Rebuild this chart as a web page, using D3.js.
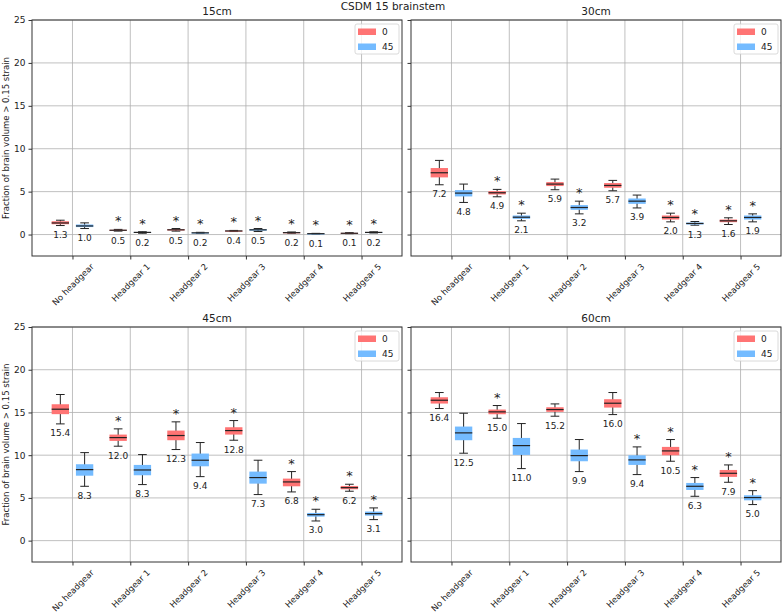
<!DOCTYPE html>
<html>
<head>
<meta charset="utf-8">
<script src="https://cdn.jsdelivr.net/npm/d3@7"></script>
<style>
  body { margin: 0; background: #fff; }
  svg text { font-family: "DejaVu Sans", sans-serif; fill: #222; }
</style>
</head>
<body>
<div id="chart"></div>
<script>
// categories and series
var categories = ['No headgear', 'Headgear 1', 'Headgear 2', 'Headgear 3', 'Headgear 4', 'Headgear 5'];
var seriesNames = ['0', '45'];
var panelTitles = ['15cm', '30cm', '45cm', '60cm'];
var yTicks = [0, 5, 10, 15, 20, 25];

// box stats per category: [whisker low, q1, median, q3, whisker high]
var stats15_0 = [[1.05, 1.2, 1.35, 1.55, 1.67], [0.4, 0.45, 0.5, 0.55, 0.6], [0.4, 0.47, 0.55, 0.63, 0.7],
                 [0.35, 0.38, 0.42, 0.45, 0.48], [0.15, 0.18, 0.22, 0.26, 0.3], [0.1, 0.12, 0.15, 0.19, 0.22]];
var stats15_45 = [[0.7, 0.87, 1.0, 1.17, 1.36], [0.15, 0.2, 0.25, 0.3, 0.33], [0.14, 0.17, 0.2, 0.23, 0.26],
                  [0.35, 0.45, 0.55, 0.63, 0.7], [0.06, 0.08, 0.1, 0.12, 0.14], [0.18, 0.21, 0.25, 0.29, 0.32]];
var stats30_0 = [[5.8, 6.66, 7.2, 7.75, 8.64], [4.4, 4.67, 4.87, 5.06, 5.26], [5.22, 5.65, 5.88, 6.11, 6.46],
                 [5.1, 5.45, 5.72, 6.0, 6.31], [1.48, 1.75, 1.99, 2.22, 2.49], [1.17, 1.44, 1.6, 1.75, 1.95]];
var stats30_45 = [[3.74, 4.44, 4.83, 5.18, 5.88], [1.6, 1.83, 2.02, 2.22, 2.49], [2.41, 2.88, 3.15, 3.43, 3.89],
                  [3.1, 3.58, 3.89, 4.2, 4.6], [1.09, 1.17, 1.29, 1.4, 1.52], [1.48, 1.75, 1.99, 2.22, 2.41]];
var stats45_0 = [[13.66, 14.8, 15.38, 15.96, 17.1], [11.05, 11.67, 12.06, 12.41, 13.08], [10.66, 11.75, 12.3, 12.88, 13.9],
                 [11.75, 12.41, 12.88, 13.27, 14.05], [5.7, 6.36, 6.87, 7.26, 8.08], [5.78, 6.01, 6.2, 6.4, 6.6]];
var stats45_45 = [[6.36, 7.6, 8.31, 8.94, 10.3], [6.56, 7.65, 8.27, 8.86, 10.07], [7.49, 8.7, 9.41, 10.19, 11.48],
                  [5.39, 6.67, 7.38, 8.08, 9.41], [2.3, 2.81, 3.04, 3.24, 3.67], [2.46, 2.93, 3.16, 3.4, 3.83]];
var stats60_0 = [[15.46, 16.04, 16.43, 16.78, 17.33], [14.32, 14.79, 15.07, 15.34, 15.81], [14.56, 15.07, 15.34, 15.61, 16.0],
                 [14.75, 15.57, 16.08, 16.55, 17.33], [9.29, 9.99, 10.5, 10.97, 11.83], [6.83, 7.46, 7.88, 8.27, 8.86]];
var stats60_45 = [[10.23, 11.75, 12.61, 13.35, 14.91], [8.43, 10.03, 11.12, 12.02, 13.7], [8.08, 9.29, 9.95, 10.66, 11.83],
                  [7.73, 8.86, 9.45, 9.99, 10.97], [5.19, 5.93, 6.36, 6.75, 7.38], [4.22, 4.72, 5.04, 5.31, 5.85]];

// printed value under each box
var labels15_0 = ['1.3', '0.5', '0.5', '0.4', '0.2', '0.1'];
var labels15_45 = ['1.0', '0.2', '0.2', '0.5', '0.1', '0.2'];
var labels30_0 = ['7.2', '4.9', '5.9', '5.7', '2.0', '1.6'];
var labels30_45 = ['4.8', '2.1', '3.2', '3.9', '1.3', '1.9'];
var labels45_0 = ['15.4', '12.0', '12.3', '12.8', '6.8', '6.2'];
var labels45_45 = ['8.3', '8.3', '9.4', '7.3', '3.0', '3.1'];
var labels60_0 = ['16.4', '15.0', '15.2', '16.0', '10.5', '7.9'];
var labels60_45 = ['12.5', '11.0', '9.9', '9.4', '6.3', '5.0'];

// significance asterisks
var stars15_0 = [0, 1, 1, 1, 1, 1];
var stars15_45 = [0, 1, 1, 1, 1, 1];
var stars30_0 = [0, 1, 0, 0, 1, 1];
var stars30_45 = [0, 1, 1, 0, 1, 1];
var stars45_0 = [0, 1, 1, 1, 1, 1];
var stars45_45 = [0, 0, 0, 0, 1, 1];
var stars60_0 = [0, 1, 0, 0, 1, 1];
var stars60_45 = [0, 0, 0, 1, 1, 1];

var panels = [
  { title: panelTitles[0], stats: [stats15_0, stats15_45], labels: [labels15_0, labels15_45], stars: [stars15_0, stars15_45], x0: 32, x1: 402, y0: 20, y1: 256, yLabels: true },
  { title: panelTitles[1], stats: [stats30_0, stats30_45], labels: [labels30_0, labels30_45], stars: [stars30_0, stars30_45], x0: 411, x1: 781, y0: 20, y1: 256, yLabels: false },
  { title: panelTitles[2], stats: [stats45_0, stats45_45], labels: [labels45_0, labels45_45], stars: [stars45_0, stars45_45], x0: 32, x1: 402, y0: 327, y1: 562, yLabels: true },
  { title: panelTitles[3], stats: [stats60_0, stats60_45], labels: [labels60_0, labels60_45], stars: [stars60_0, stars60_45], x0: 411, x1: 781, y0: 327, y1: 562, yLabels: false }
];

var colors = ['#ff7474', '#74bbff'],
    offsets = [-0.21, 0.21],
    boxWidth = 0.3,
    capWidth = 0.15;

var svg = d3.select('#chart')
  .append('svg')
  .attr('width', 783)
  .attr('height', 616);

svg.append('text')
  .attr('x', 393)
  .attr('y', 10)
  .attr('text-anchor', 'middle')
  .style('font-size', '10.5px')
  .text('CSDM 15 brainstem');

panels.forEach(function(p) {
  var x = d3.scaleLinear().domain([0.3, 6.7]).range([p.x0, p.x1]);
  var y = d3.scaleLinear().domain([-2.5, 25]).range([p.y1, p.y0]);
  var g = svg.append('g');

  // grid
  g.selectAll('.hgrid').data(yTicks).enter().append('line')
    .attr('x1', p.x0).attr('x2', p.x1)
    .attr('y1', function(d) { return y(d); }).attr('y2', function(d) { return y(d); })
    .attr('stroke', '#b0b0b0').attr('stroke-width', 0.8);
  g.selectAll('.vgrid').data(d3.range(1, 7)).enter().append('line')
    .attr('y1', p.y0).attr('y2', p.y1)
    .attr('x1', function(d) { return x(d); }).attr('x2', function(d) { return x(d); })
    .attr('stroke', '#b0b0b0').attr('stroke-width', 0.8);

  // axes
  var yAxis = d3.axisLeft(y).tickValues(yTicks).tickSize(3.5).tickPadding(3)
    .tickFormat(p.yLabels ? d3.format('d') : '');
  var ya = g.append('g').attr('transform', 'translate(' + p.x0 + ',0)').call(yAxis);
  ya.select('.domain').remove();
  ya.selectAll('line').attr('stroke', '#333');
  ya.selectAll('text').style('font-size', '9px').style('font-family', '"DejaVu Sans", sans-serif').attr('fill', '#222');

  var xAxis = d3.axisBottom(x).tickValues(d3.range(1, 7)).tickSize(3.5)
    .tickFormat(function(d) { return categories[d - 1]; });
  var xa = g.append('g').attr('transform', 'translate(0,' + p.y1 + ')').call(xAxis);
  xa.select('.domain').remove();
  xa.selectAll('line').attr('stroke', '#333');
  xa.selectAll('text')
    .style('font-size', '8.5px').style('font-family', '"DejaVu Sans", sans-serif').attr('fill', '#222')
    .attr('dy', null).attr('y', 0)
    .attr('text-anchor', 'middle')
    .attr('dominant-baseline', 'central')
    .each(function() {
      var L = this.getComputedTextLength(), h = 8.5;
      var H = (L + h) * Math.SQRT1_2;
      d3.select(this).attr('transform', 'translate(0,' + (6 + H / 2) + ') rotate(-45)');
    });

  // series
  p.stats.forEach(function(s, si) {
    var sg = g.append('g');
    var items = s.map(function(d, i) {
      return { pos: i + 1 + offsets[si], st: d, label: p.labels[si][i], star: p.stars[si][i] };
    });
    var b = sg.selectAll('.box').data(items).enter().append('g');
    // whiskers
    b.append('line')
      .attr('x1', function(d) { return x(d.pos); }).attr('x2', function(d) { return x(d.pos); })
      .attr('y1', function(d) { return y(d.st[0]); }).attr('y2', function(d) { return y(d.st[4]); })
      .attr('stroke', '#222').attr('stroke-width', 1);
    [0, 4].forEach(function(k) {
      b.append('line')
        .attr('x1', function(d) { return x(d.pos - capWidth / 2); }).attr('x2', function(d) { return x(d.pos + capWidth / 2); })
        .attr('y1', function(d) { return y(d.st[k]); }).attr('y2', function(d) { return y(d.st[k]); })
        .attr('stroke', '#222').attr('stroke-width', 1);
    });
    b.append('rect')
      .attr('x', function(d) { return x(d.pos - boxWidth / 2); })
      .attr('width', x(boxWidth) - x(0))
      .attr('y', function(d) { return y(d.st[3]); })
      .attr('height', function(d) { return Math.max(1, y(d.st[1]) - y(d.st[3])); })
      .attr('fill', colors[si]);
    b.append('line')
      .attr('x1', function(d) { return x(d.pos - boxWidth / 2); }).attr('x2', function(d) { return x(d.pos + boxWidth / 2); })
      .attr('y1', function(d) { return y(d.st[2]); }).attr('y2', function(d) { return y(d.st[2]); })
      .attr('stroke', '#222').attr('stroke-width', 1.2);
    b.append('text')
      .attr('x', function(d) { return x(d.pos); })
      .attr('y', function(d) { return y(d.st[0]) + 9.5; })
      .attr('text-anchor', 'middle').attr('dominant-baseline', 'central')
      .style('font-size', '9px')
      .text(function(d) { return d.label; });
    b.filter(function(d) { return d.star; }).append('text')
      .attr('x', function(d) { return x(d.pos); })
      .attr('y', function(d) { return y(d.st[4]) - 4; })
      .attr('text-anchor', 'middle')
      .style('font-size', '13px')
      .text('*');
  });

  // frame
  g.append('rect')
    .attr('x', p.x0).attr('y', p.y0)
    .attr('width', p.x1 - p.x0).attr('height', p.y1 - p.y0)
    .attr('fill', 'none').attr('stroke', '#333').attr('stroke-width', 1);

  g.append('text')
    .attr('x', (p.x0 + p.x1) / 2).attr('y', p.y0 - 5.5)
    .attr('text-anchor', 'middle')
    .style('font-size', '10.5px')
    .text(p.title);

  // legend
  var lg = g.append('g').attr('transform', 'translate(' + (p.x1 - 47) + ',' + (p.y0 + 4) + ')');
  lg.append('rect')
    .attr('width', 44).attr('height', 30).attr('rx', 2)
    .attr('fill', '#fff').attr('fill-opacity', 0.8)
    .attr('stroke', '#d0d0d0').attr('stroke-width', 0.8);
  seriesNames.forEach(function(n, i) {
    lg.append('rect')
      .attr('x', 3).attr('y', 4.5 + i * 15)
      .attr('width', 18).attr('height', 6.5)
      .attr('fill', colors[i]);
    lg.append('text')
      .attr('x', 27).attr('y', 8 + i * 15)
      .attr('dominant-baseline', 'central')
      .style('font-size', '9px')
      .text(n);
  });

  if (p.yLabels) {
    svg.append('text')
      .attr('transform', 'translate(9,' + ((p.y0 + p.y1) / 2) + ') rotate(-90)')
      .attr('text-anchor', 'middle')
      .style('font-size', '8.5px')
      .text('Fraction of brain volume > 0.15 strain');
  }
});
</script>
</body>
</html>
